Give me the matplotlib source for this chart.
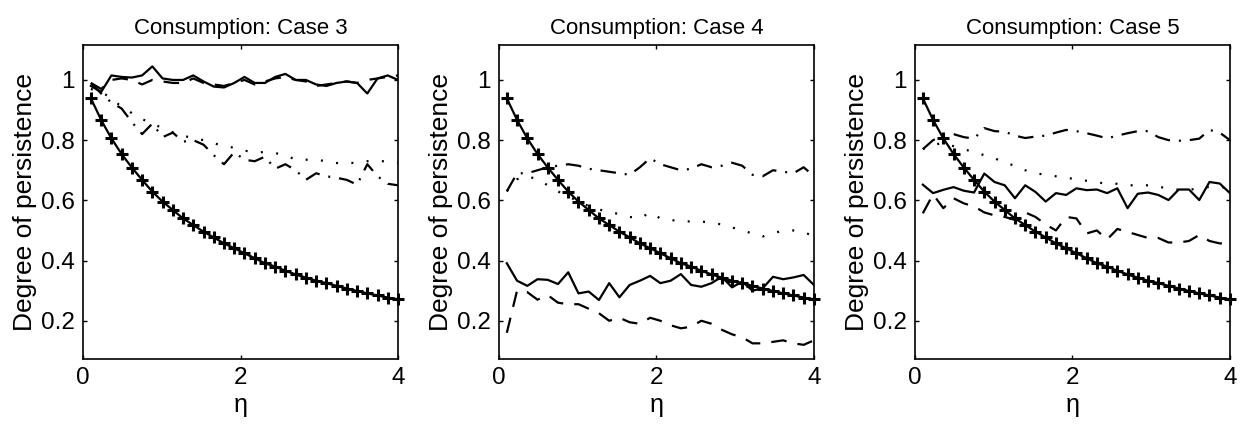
import matplotlib
matplotlib.use("Agg")
import matplotlib.pyplot as plt

plt.rcParams['font.family'] = ['Liberation Sans', 'DejaVu Sans']

eta = [0.10, 0.23, 0.36, 0.49, 0.62, 0.75, 0.88, 1.01, 1.14, 1.27, 1.40,
       1.53, 1.66, 1.79, 1.92, 2.05, 2.18, 2.31, 2.44, 2.57, 2.70, 2.83,
       2.96, 3.09, 3.22, 3.35, 3.48, 3.61, 3.74, 3.87, 4.00]

# theoretical curve (plus markers), same in every panel
benchmark = [0.939, 0.867, 0.806, 0.754, 0.709, 0.668, 0.629, 0.596, 0.568,
             0.540, 0.518, 0.496, 0.477, 0.457, 0.441, 0.424, 0.408, 0.391,
             0.380, 0.366, 0.354, 0.343, 0.333, 0.325, 0.316, 0.307, 0.299,
             0.291, 0.284, 0.277, 0.271]

titles = ["Consumption: Case 3", "Consumption: Case 4", "Consumption: Case 5"]

# case 3
c3_solid = [0.98, 0.96, 1.015, 1.01, 1.008, 1.015, 1.045, 1.005, 1.0, 1.0,
            1.015, 0.995, 0.978, 0.975, 0.99, 1.01, 0.99, 0.99, 1.01, 1.02,
            1.0, 1.0, 0.985, 0.98, 0.99, 0.995, 0.99, 0.955, 1.005, 1.015, 1.0]
c3_dashed = [0.99, 0.97, 1.0, 1.005, 1.0, 0.985, 1.0, 0.995, 0.99, 0.99,
             1.005, 0.99, 0.985, 0.98, 0.99, 1.0, 0.985, 0.995, 1.005, 1.01,
             1.0, 0.995, 0.98, 0.985, 0.99, 0.995, 0.99, 1.0, 1.005, 1.01, 1.015]
c3_dotted = [0.97, 0.96, 0.94, 0.91, 0.89, 0.87, 0.855, 0.84, 0.826, 0.815,
             0.806, 0.80, 0.79, 0.78, 0.775, 0.765, 0.76, 0.76, 0.757, 0.75,
             0.735, 0.735, 0.735, 0.73, 0.724, 0.725, 0.724, 0.73, 0.73, 0.73,
             0.725]
c3_dashdot = [0.99, 0.955, 0.925, 0.905, 0.86, 0.82, 0.855, 0.81, 0.825,
              0.795, 0.80, 0.785, 0.75, 0.72, 0.76, 0.735, 0.73, 0.745, 0.705,
              0.72, 0.70, 0.668, 0.69, 0.68, 0.675, 0.668, 0.652, 0.72, 0.68,
              0.655, 0.65]

# case 4
c4_solid = [0.391, 0.333, 0.316, 0.338, 0.336, 0.322, 0.361, 0.291, 0.297,
            0.269, 0.325, 0.278, 0.319, 0.333, 0.349, 0.325, 0.333, 0.355,
            0.319, 0.313, 0.325, 0.346, 0.311, 0.330, 0.300, 0.308, 0.346,
            0.338, 0.344, 0.352, 0.319]
c4_dashed = [0.16, 0.30, 0.295, 0.27, 0.285, 0.26, 0.255, 0.255, 0.24, 0.225,
             0.20, 0.21, 0.195, 0.19, 0.21, 0.20, 0.185, 0.175, 0.18, 0.20,
             0.19, 0.17, 0.155, 0.145, 0.125, 0.125, 0.13, 0.135, 0.125,
             0.12, 0.135]
c4_dotted = [0.63, 0.67, 0.68, 0.67, 0.65, 0.63, 0.61, 0.60, 0.58, 0.57,
             0.56, 0.555, 0.545, 0.54, 0.56, 0.54, 0.535, 0.53, 0.53, 0.53,
             0.525, 0.52, 0.51, 0.50, 0.49, 0.48, 0.49, 0.50, 0.50, 0.495,
             0.48]
c4_dashdot = [0.63, 0.69, 0.69, 0.70, 0.71, 0.715, 0.72, 0.715, 0.705, 0.70,
              0.695, 0.69, 0.685, 0.71, 0.74, 0.72, 0.71, 0.70, 0.705, 0.72,
              0.71, 0.715, 0.725, 0.715, 0.685, 0.68, 0.70, 0.695, 0.69,
              0.71, 0.68]

# case 5
c5_solid = [0.652, 0.624, 0.635, 0.644, 0.632, 0.626, 0.689, 0.661, 0.65,
            0.607, 0.65, 0.628, 0.596, 0.624, 0.618, 0.64, 0.634, 0.636,
            0.624, 0.64, 0.574, 0.622, 0.626, 0.618, 0.601, 0.636, 0.636,
            0.601, 0.661, 0.656, 0.624]
c5_dashed = [0.557, 0.62, 0.574, 0.607, 0.59, 0.58, 0.56, 0.55, 0.545, 0.535,
             0.56, 0.545, 0.52, 0.50, 0.545, 0.54, 0.49, 0.50, 0.47, 0.505,
             0.495, 0.485, 0.475, 0.475, 0.46, 0.46, 0.465, 0.485, 0.465,
             0.457, 0.457]
c5_dotted = [0.77, 0.785, 0.79, 0.78, 0.77, 0.76, 0.75, 0.74, 0.725, 0.715,
             0.70, 0.69, 0.685, 0.68, 0.675, 0.67, 0.665, 0.66, 0.655, 0.655,
             0.65, 0.65, 0.65, 0.645, 0.64, 0.635, 0.635, 0.64, 0.645, 0.645,
             0.64]
c5_dashdot = [0.77, 0.80, 0.815, 0.82, 0.81, 0.805, 0.84, 0.83, 0.828, 0.815,
              0.807, 0.812, 0.815, 0.825, 0.834, 0.83, 0.823, 0.815, 0.806,
              0.815, 0.823, 0.83, 0.83, 0.81, 0.80, 0.798, 0.80, 0.805, 0.834,
              0.825, 0.80]

cases = [
    (c3_solid, c3_dashed, c3_dotted, c3_dashdot),
    (c4_solid, c4_dashed, c4_dotted, c4_dashdot),
    (c5_solid, c5_dashed, c5_dotted, c5_dashdot),
]

fig = plt.figure(figsize=(12.43, 4.26), dpi=100)
lefts = [0.0668, 0.4014, 0.7361]
lw = 1.6

for k in range(3):
    ax = fig.add_axes([lefts[k], 0.1573, 0.2534, 0.737])
    solid, dashed, dotted, dashdot = cases[k]
    ax.plot(eta, solid, color="black", lw=lw)
    ax.plot(eta, dashed, color="black", lw=lw, dashes=(7, 5))
    ax.plot(eta, dotted, color="black", lw=lw, dashes=(0.9, 6))
    ax.plot(eta, dashdot, color="black", lw=lw, dashes=(7, 4, 0.9, 4))
    ax.plot(eta, benchmark, color="black", lw=lw, marker="+",
            markersize=8, markeredgewidth=2.2, clip_on=False)

    ax.set_xlim(0, 4)
    ax.set_ylim(0.073, 1.116)
    ax.set_xticks([0, 2, 4])
    ax.set_yticks([0.2, 0.4, 0.6, 0.8, 1.0])
    ax.set_yticklabels(["0.2", "0.4", "0.6", "0.8", "1"])
    ax.tick_params(direction="in", top=True, right=True, length=3,
                   width=1, labelsize=17.5, pad=6)
    for sp in ax.spines.values():
        sp.set_linewidth(1.2)
    ax.set_title(titles[k], fontsize=16, pad=8)
    ax.set_xlabel("η", fontsize=18, labelpad=3)
    ax.set_ylabel("Degree of persistence", fontsize=19, labelpad=3)

fig.savefig("out.png", dpi=100)
